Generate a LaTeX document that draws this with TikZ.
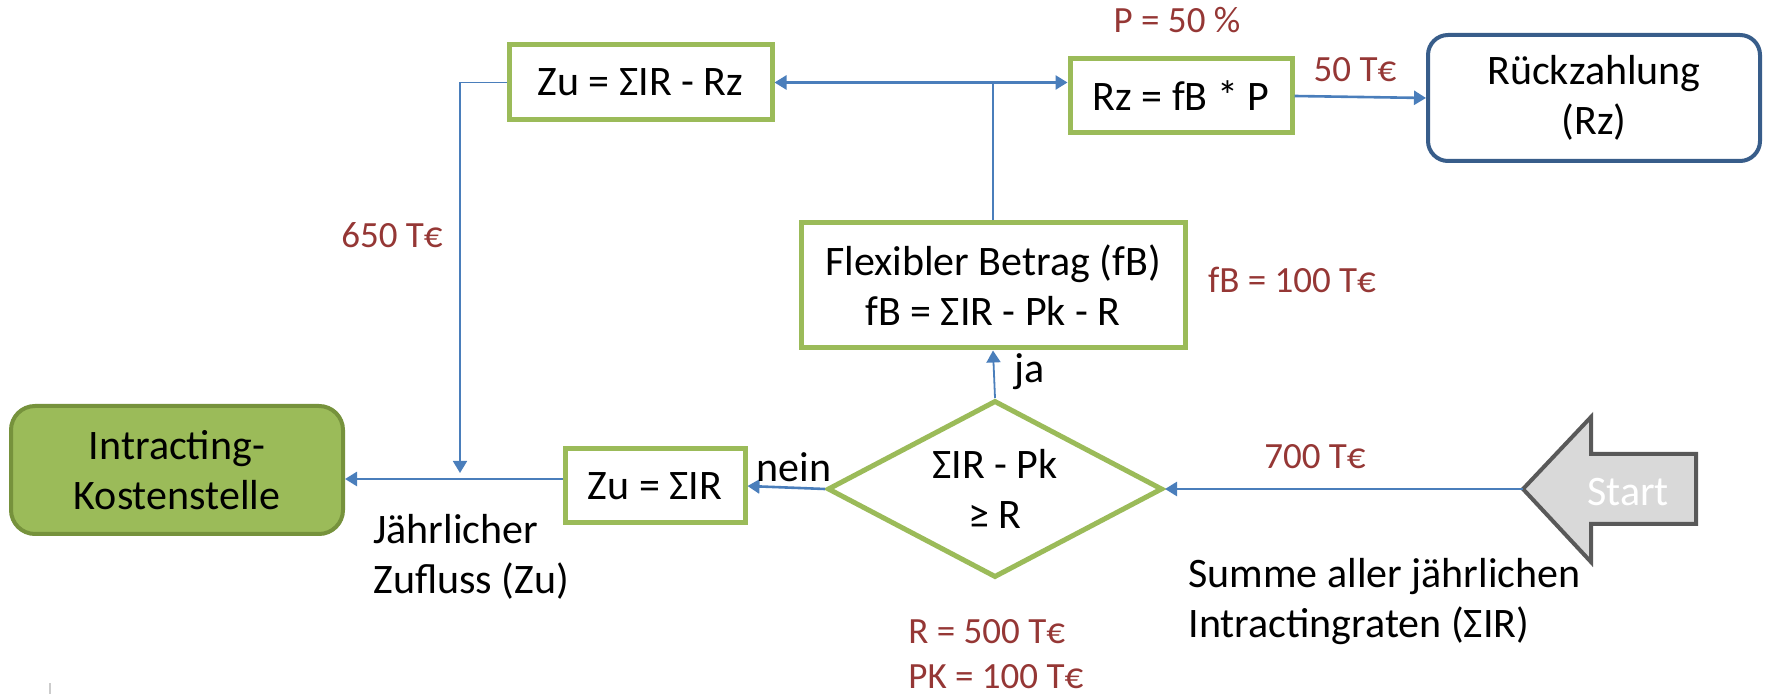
\documentclass[tikz,border=0pt]{standalone}
\usepackage{fontspec}
\setmainfont{Carlito}
\usetikzlibrary{shapes.geometric,arrows.meta}
\definecolor{grn}{HTML}{9BBB59}
\definecolor{grndark}{HTML}{76923C}
\definecolor{lblue}{HTML}{4A7EBB}
\definecolor{dred}{HTML}{953735}
\definecolor{dblue}{HTML}{385D8A}
\definecolor{sgray}{HTML}{595959}
\definecolor{sfill}{HTML}{D9D9D9}
\tikzset{
  gbox/.style={draw=grn,line width=2.5pt,fill=white,inner sep=0pt,align=center,font=\fontsize{21}{25}\selectfont},
  lbl/.style={text=dred,font=\fontsize{18.5}{22.2}\selectfont,inner sep=0pt},
  txt/.style={text=black,font=\fontsize{21}{25}\selectfont,inner sep=0pt},
  arr/.style={draw=lblue,line width=1.3pt,-{Triangle[width=7pt,length=6pt]}},
  ln/.style={draw=lblue,line width=0.9pt},
}
\begin{document}
\begin{tikzpicture}[x=0.5pt,y=-0.5pt]
\useasboundingbox (0,0) rectangle (1766,694);
% nodes
\node[gbox,minimum width=131.5pt,minimum height=37.5pt] (zu2) at (640.5,82.5) {Zu = ΣIR - Rz};
\node[gbox,minimum width=111pt,minimum height=37pt] (rz) at (1181,96) {Rz = fB * P};
\node[draw=dblue,line width=2pt,rounded corners=10pt,fill=white,align=center,inner sep=0pt,
      minimum width=166pt,minimum height=63pt,font=\fontsize{21}{25}\selectfont] (ruck) at (1594,98) {Rückzahlung\\(Rz)};
\node[gbox,minimum width=192pt,minimum height=62.5pt] (flex) at (993,285.5) {Flexibler Betrag (fB)\\fB = ΣIR - Pk - R};
\node[gbox,diamond,aspect=1.89,minimum width=167.5pt,minimum height=88.5pt] (dia) at (995,489) {ΣIR - Pk\\≥ R};
\node[gbox,minimum width=90pt,minimum height=37pt] (zu1) at (655,486) {Zu = ΣIR};
\node[draw=grndark,fill=grn,line width=2pt,rounded corners=12pt,align=center,inner sep=0pt,
      minimum width=166pt,minimum height=64pt,font=\fontsize{21}{25}\selectfont] (intr) at (177,470) {Intracting-\\Kostenstelle};
% start arrow
\draw[draw=sgray,fill=sfill,line width=2pt] (1523,489) -- (1591,417) -- (1591,454) -- (1696,454) -- (1696,524) -- (1591,524) -- (1591,562) -- cycle;
\coordinate (starttip) at (1523,489);
\node[text=white,font=\fontsize{21}{25}\selectfont,inner sep=0pt] (start) at (1628,492) {Start};
% connectors
\draw[arr] (starttip) -- (dia.east);
\draw[arr] (dia.west) -- (zu1.east);
\coordinate (zuout) at ([yshift=3.5pt]zu1.west);
\draw[arr] (zuout) -- (intr.east |- zuout);
\coordinate (drop) at (460,473);
\draw[ln,-{Triangle[width=7pt,length=6pt]}] (zu2.west) -| (drop);
\draw[ln,-{Triangle[width=7pt,length=6pt]}] (dia.north) -- (flex.south);
\coordinate (junc) at (flex.north |- zu2.east);
\draw[ln] (flex.north) -- (junc);
\draw[arr] (junc) -- (zu2.east);
\draw[arr] (junc) -- (rz.west |- junc);
\draw[arr] (rz.east) -- (ruck.west);
% labels
\node[lbl] (lp) at (1177,20) {P = 50 \%};
\node[lbl] (l50) at (1355,70) {50 T€};
\node[lbl] (l650) at (392,235) {650 T€};
\node[lbl] (lfb) at (1292,280) {fB = 100 T€};
\node[lbl] (l700) at (1315,457) {700 T€};
\node[lbl,align=left,anchor=west] (lr) at (908,654) {R = 500 T€\\PK = 100 T€};
\node[txt] (ja) at (1030,372) {ja};
\node[txt] (nein) at (794,467) {nein};
\node[txt,align=left,anchor=west] (jz) at (373,557) {Jährlicher\\Zufluss (Zu)};
\node[txt,align=left,anchor=west] (summe) at (1188,602) {Summe aller jährlichen\\Intractingraten (ΣIR)};
\draw[draw=black!20,line width=0.6pt] (50,683) -- (50,694);
\end{tikzpicture}
\end{document}
